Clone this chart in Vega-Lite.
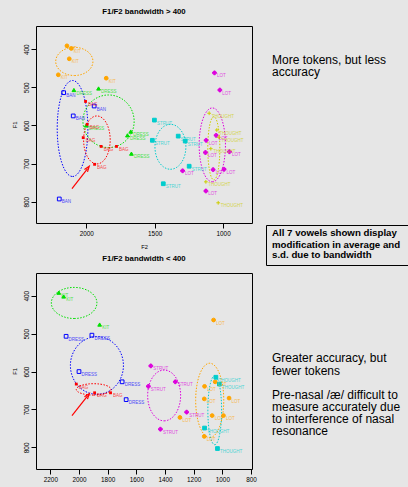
{
  "$schema": "https://vega.github.io/schema/vega-lite/v6.json",
  "background": "#e6e6e6",
  "padding": {"left": 10, "top": 7, "right": 0, "bottom": 0},
  "config": {
    "font": "Liberation Sans",
    "view": {"stroke": "#000", "strokeWidth": 1},
    "axis": {"domain": false, "grid": false, "tickColor": "#000", "tickSize": 5, "tickWidth": 1, "labelFont": "Liberation Sans", "labelFontSize": 6.4, "labelColor": "#000", "labelPadding": 2, "titleFont": "Liberation Sans", "titleFontSize": 5.7, "titleFontWeight": "normal", "titleColor": "#000", "labelFlush": false, "labelOverlap": false, "format": "d"},
    "axisX": {"titlePadding": 7},
    "axisY": {"labelAngle": -90, "titlePadding": 6},
    "title": {"font": "Liberation Sans", "fontSize": 7.8, "fontWeight": "bold", "color": "#000", "offset": 10, "baseline": "alphabetic", "anchor": "middle"}
  },
  "datasets": {
    "pts1": [
      {"v": "KIT", "F2": 2141, "F1": 391}, {"v": "KIT", "F2": 2109, "F1": 398}, {"v": "KIT", "F2": 2124, "F1": 425}, {"v": "KIT", "F2": 2204, "F1": 467}, {"v": "KIT", "F2": 1854, "F1": 476},
      {"v": "BAN", "F2": 2165, "F1": 514}, {"v": "BAN", "F2": 1942, "F1": 549}, {"v": "BAN", "F2": 2095, "F1": 575}, {"v": "BAN", "F2": 2197, "F1": 793},
      {"v": "DRESS", "F2": 2090, "F1": 507}, {"v": "DRESS", "F2": 1910, "F1": 503}, {"v": "DRESS", "F2": 2000, "F1": 600}, {"v": "DRESS", "F2": 1675, "F1": 616}, {"v": "DRESS", "F2": 1699, "F1": 626}, {"v": "DRESS", "F2": 1670, "F1": 674},
      {"v": "BAG", "F2": 2005, "F1": 537}, {"v": "BAG", "F2": 1993, "F1": 597}, {"v": "BAG", "F2": 2022, "F1": 632}, {"v": "BAG", "F2": 1891, "F1": 655}, {"v": "BAG", "F2": 1779, "F1": 655}, {"v": "BAG", "F2": 1939, "F1": 702},
      {"v": "STRUT", "F2": 1502, "F1": 586}, {"v": "STRUT", "F2": 1328, "F1": 628}, {"v": "STRUT", "F2": 1277, "F1": 641}, {"v": "STRUT", "F2": 1517, "F1": 639}, {"v": "STRUT", "F2": 1248, "F1": 707}, {"v": "STRUT", "F2": 1437, "F1": 753},
      {"v": "LOT", "F2": 1063, "F1": 462}, {"v": "LOT", "F2": 1024, "F1": 507}, {"v": "LOT", "F2": 1051, "F1": 626}, {"v": "LOT", "F2": 1124, "F1": 639}, {"v": "LOT", "F2": 1129, "F1": 671}, {"v": "LOT", "F2": 954, "F1": 669}, {"v": "LOT", "F2": 1296, "F1": 719}, {"v": "LOT", "F2": 1073, "F1": 716}, {"v": "LOT", "F2": 993, "F1": 715}, {"v": "LOT", "F2": 1126, "F1": 772},
      {"v": "THOUGHT", "F2": 1102, "F1": 568}, {"v": "THOUGHT", "F2": 1046, "F1": 612}, {"v": "THOUGHT", "F2": 1031, "F1": 631}, {"v": "THOUGHT", "F2": 1090, "F1": 661}, {"v": "THOUGHT", "F2": 1126, "F1": 748}, {"v": "THOUGHT", "F2": 1036, "F1": 803}
    ],
    "ell1": [
      {"v": "KIT", "k": 0, "F2": 2223, "F1": 432}, {"v": "KIT", "k": 1, "F2": 2087, "F1": 469}, {"v": "KIT", "k": 2, "F2": 1951, "F1": 432}, {"v": "KIT", "k": 3, "F2": 2087, "F1": 395},
      {"v": "BAN", "k": 0, "F2": 2212, "F1": 608}, {"v": "BAN", "k": 1, "F2": 2100, "F1": 734}, {"v": "BAN", "k": 2, "F2": 1988, "F1": 608}, {"v": "BAN", "k": 3, "F2": 2100, "F1": 482},
      {"v": "DRESS", "k": 0, "F2": 2024, "F1": 589}, {"v": "DRESS", "k": 1, "F2": 1837, "F1": 658}, {"v": "DRESS", "k": 2, "F2": 1650, "F1": 589}, {"v": "DRESS", "k": 3, "F2": 1837, "F1": 520},
      {"v": "BAG", "k": 0, "F2": 2019, "F1": 638}, {"v": "BAG", "k": 1, "F2": 1922, "F1": 701}, {"v": "BAG", "k": 2, "F2": 1825, "F1": 638}, {"v": "BAG", "k": 3, "F2": 1922, "F1": 575},
      {"v": "STRUT", "k": 0, "F2": 1498, "F1": 656}, {"v": "STRUT", "k": 1, "F2": 1385, "F1": 715}, {"v": "STRUT", "k": 2, "F2": 1272, "F1": 656}, {"v": "STRUT", "k": 3, "F2": 1385, "F1": 597},
      {"v": "LOT", "k": 0, "F2": 1175, "F1": 651}, {"v": "LOT", "k": 1, "F2": 1079, "F1": 748}, {"v": "LOT", "k": 2, "F2": 983, "F1": 651}, {"v": "LOT", "k": 3, "F2": 1079, "F1": 554},
      {"v": "THOUGHT", "k": 0, "F2": 1112, "F1": 660}, {"v": "THOUGHT", "k": 1, "F2": 1068, "F1": 743}, {"v": "THOUGHT", "k": 2, "F2": 1024, "F1": 660}, {"v": "THOUGHT", "k": 3, "F2": 1068, "F1": 577}
    ],
    "arr1": [{"F2": 2104, "F1": 766, "F2b": 1990, "F1b": 713}],
    "pts2": [
      {"v": "KIT", "F2": 2141, "F1": 392}, {"v": "KIT", "F2": 2107, "F1": 402}, {"v": "KIT", "F2": 1856, "F1": 476},
      {"v": "DRESS", "F2": 2090, "F1": 507}, {"v": "DRESS", "F2": 1910, "F1": 504}, {"v": "DRESS", "F2": 2000, "F1": 600}, {"v": "DRESS", "F2": 1699, "F1": 627}, {"v": "DRESS", "F2": 1671, "F1": 674},
      {"v": "BAG", "F2": 2019, "F1": 633}, {"v": "BAG", "F2": 1891, "F1": 656}, {"v": "BAG", "F2": 1780, "F1": 656},
      {"v": "STRUT", "F2": 1499, "F1": 585}, {"v": "STRUT", "F2": 1516, "F1": 639}, {"v": "STRUT", "F2": 1328, "F1": 627}, {"v": "STRUT", "F2": 1249, "F1": 707}, {"v": "STRUT", "F2": 1432, "F1": 752},
      {"v": "LOT", "F2": 1061, "F1": 464}, {"v": "LOT", "F2": 1050, "F1": 627}, {"v": "LOT", "F2": 1124, "F1": 639}, {"v": "LOT", "F2": 1126, "F1": 672}, {"v": "LOT", "F2": 953, "F1": 670}, {"v": "LOT", "F2": 1296, "F1": 721}, {"v": "LOT", "F2": 1071, "F1": 716}, {"v": "LOT", "F2": 992, "F1": 716}, {"v": "LOT", "F2": 1126, "F1": 771},
      {"v": "THOUGHT", "F2": 1045, "F1": 615}, {"v": "THOUGHT", "F2": 1020, "F1": 633}, {"v": "THOUGHT", "F2": 1124, "F1": 749}, {"v": "THOUGHT", "F2": 1034, "F1": 803}
    ],
    "ell2": [
      {"v": "KIT", "k": 0, "F2": 2193, "F1": 419}, {"v": "KIT", "k": 1, "F2": 2034, "F1": 460}, {"v": "KIT", "k": 2, "F2": 1875, "F1": 419}, {"v": "KIT", "k": 3, "F2": 2034, "F1": 378},
      {"v": "DRESS", "k": 0, "F2": 2060, "F1": 584}, {"v": "DRESS", "k": 1, "F2": 1875, "F1": 660}, {"v": "DRESS", "k": 2, "F2": 1690, "F1": 584}, {"v": "DRESS", "k": 3, "F2": 1875, "F1": 508},
      {"v": "BAG", "k": 0, "F2": 2019, "F1": 647}, {"v": "BAG", "k": 1, "F2": 1898, "F1": 662}, {"v": "BAG", "k": 2, "F2": 1777, "F1": 647}, {"v": "BAG", "k": 3, "F2": 1898, "F1": 632},
      {"v": "STRUT", "k": 0, "F2": 1521, "F1": 663}, {"v": "STRUT", "k": 1, "F2": 1406, "F1": 730}, {"v": "STRUT", "k": 2, "F2": 1291, "F1": 663}, {"v": "STRUT", "k": 3, "F2": 1406, "F1": 596},
      {"v": "LOT", "k": 0, "F2": 1186, "F1": 676}, {"v": "LOT", "k": 1, "F2": 1088, "F1": 774}, {"v": "LOT", "k": 2, "F2": 990, "F1": 676}, {"v": "LOT", "k": 3, "F2": 1088, "F1": 578},
      {"v": "THOUGHT", "k": 0, "F2": 1101, "F1": 702}, {"v": "THOUGHT", "k": 1, "F2": 1053, "F1": 793}, {"v": "THOUGHT", "k": 2, "F2": 1005, "F1": 702}, {"v": "THOUGHT", "k": 3, "F2": 1053, "F1": 611}
    ],
    "arr2": [{"F2": 2049, "F1": 716, "F2b": 1940, "F1b": 664}],
    "box": [{"left": 266.5, "right": 412, "top": 224.5, "bottom": 264.5}],
    "notesRegular": [
      {"t": "More tokens, but less", "line": 62.7},
      {"t": "accuracy", "line": 74.6},
      {"t": "Greater accuracy, but", "line": 360.5},
      {"t": "fewer tokens", "line": 373.5},
      {"t": "Pre-nasal /æ/ difficult to", "line": 397.7},
      {"t": "measure accurately due", "line": 410},
      {"t": "to interference of nasal", "line": 422.3},
      {"t": "resonance", "line": 434.3}
    ],
    "notesBold": [
      {"t": "All 7 vowels shown display", "line": 235.3},
      {"t": "modification in average and", "line": 246.6},
      {"t": "s.d. due to bandwidth", "line": 256.6}
    ]
  },
  "hconcat": [
    {
      "spacing": 4,
      "resolve": {"scale": {"x": "independent", "y": "independent", "color": "independent", "fill": "independent", "stroke": "independent", "shape": "independent"}},
      "vconcat": [
        {
          "title": {"text": "F1/F2 bandwidth > 400"},
          "width": 216,
          "height": 197,
          "encoding": {
            "x": {"field": "F2", "type": "quantitative", "scale": {"domain": [789, 2367], "reverse": true, "nice": false, "zero": false}, "axis": {"values": [2000, 1500, 1000], "title": "F2"}},
            "y": {"field": "F1", "type": "quantitative", "scale": {"domain": [339, 856], "reverse": true, "nice": false, "zero": false}, "axis": {"values": [400, 500, 600, 700, 800], "title": "F1"}}
          },
          "layer": [
            {
              "data": {"name": "ell1"},
              "mark": {"type": "line", "interpolate": "cardinal-closed", "tension": -0.657, "strokeDash": [1.5, 1.5], "strokeWidth": 1},
              "encoding": {
                "color": {"field": "v", "type": "nominal", "scale": {"domain": ["KIT", "BAN", "DRESS", "BAG", "STRUT", "LOT", "THOUGHT"], "range": ["#ffa500", "#0000ff", "#00e000", "#ff0000", "#00cdcd", "#dd00dd", "#cdcd00"]}, "legend": null},
                "order": {"field": "k", "type": "quantitative"}
              }
            },
            {
              "data": {"name": "pts1"},
              "transform": [{"filter": "datum.v !== 'BAG'"}],
              "mark": {"type": "point", "size": 14, "strokeWidth": 1, "opacity": 1},
              "encoding": {
                "shape": {"field": "v", "type": "nominal", "scale": {"domain": ["KIT", "BAN", "DRESS", "STRUT", "LOT", "THOUGHT"], "range": ["circle", "square", "triangle-up", "square", "cross", "M-1,0H1M0,-1V1"]}, "legend": null},
                "fill": {"field": "v", "type": "nominal", "scale": {"domain": ["KIT", "BAN", "DRESS", "STRUT", "LOT", "THOUGHT"], "range": ["#ffa500", "transparent", "#00e000", "#00cdcd", "#dd00dd", "transparent"]}, "legend": null},
                "stroke": {"field": "v", "type": "nominal", "scale": {"domain": ["KIT", "BAN", "DRESS", "STRUT", "LOT", "THOUGHT"], "range": ["#ffa500", "#0000ff", "#00e000", "#00cdcd", "#dd00dd", "#cdcd00"]}, "legend": null}
              }
            },
            {
              "data": {"name": "pts1"},
              "transform": [{"filter": "datum.v === 'BAG'"}],
              "mark": {"type": "square", "size": 8, "color": "#ff0000", "opacity": 1}
            },
            {
              "data": {"name": "pts1"},
              "mark": {"type": "text", "align": "left", "baseline": "middle", "dx": 2.5, "dy": 3.5, "fontSize": 4.5, "font": "Liberation Sans", "opacity": 0.7},
              "encoding": {
                "text": {"field": "v"},
                "color": {"field": "v", "type": "nominal", "legend": null}
              }
            },
            {
              "data": {"name": "arr1"},
              "mark": {"type": "rule", "color": "#ff0000", "strokeWidth": 1.2},
              "encoding": {"x2": {"field": "F2b"}, "y2": {"field": "F1b"}}
            },
            {
              "data": {"name": "arr1"},
              "mark": {"type": "point", "shape": "M-0.7,1L0,-1L0.7,1", "angle": 37, "color": "#ff0000", "size": 30, "strokeWidth": 1.2, "filled": false, "opacity": 1},
              "encoding": {"x": {"field": "F2b", "type": "quantitative"}, "y": {"field": "F1b", "type": "quantitative"}}
            }
          ]
        },
        {
          "title": {"text": "F1/F2 bandwidth < 400"},
          "width": 216,
          "height": 196,
          "encoding": {
            "x": {"field": "F2", "type": "quantitative", "scale": {"domain": [793, 2300], "reverse": true, "nice": false, "zero": false}, "axis": {"values": [2200, 2000, 1800, 1600, 1400, 1200, 1000, 800], "title": "F2"}},
            "y": {"field": "F1", "type": "quantitative", "scale": {"domain": [340, 857], "reverse": true, "nice": false, "zero": false}, "axis": {"values": [400, 500, 600, 700, 800], "title": "F1"}}
          },
          "layer": [
            {
              "data": {"name": "ell2"},
              "mark": {"type": "line", "interpolate": "cardinal-closed", "tension": -0.657, "strokeDash": [1.5, 1.5], "strokeWidth": 1},
              "encoding": {
                "color": {"field": "v", "type": "nominal", "scale": {"domain": ["KIT", "DRESS", "BAG", "STRUT", "LOT", "THOUGHT"], "range": ["#00e000", "#0000ff", "#ff0000", "#dd00dd", "#ffa500", "#00cdcd"]}, "legend": null},
                "order": {"field": "k", "type": "quantitative"}
              }
            },
            {
              "data": {"name": "pts2"},
              "transform": [{"filter": "datum.v !== 'BAG'"}],
              "mark": {"type": "point", "size": 14, "strokeWidth": 1, "opacity": 1},
              "encoding": {
                "shape": {"field": "v", "type": "nominal", "scale": {"domain": ["KIT", "DRESS", "STRUT", "LOT", "THOUGHT"], "range": ["triangle-up", "square", "cross", "circle", "square"]}, "legend": null},
                "fill": {"field": "v", "type": "nominal", "scale": {"domain": ["KIT", "DRESS", "STRUT", "LOT", "THOUGHT"], "range": ["#00e000", "transparent", "#dd00dd", "#ffa500", "#00cdcd"]}, "legend": null},
                "stroke": {"field": "v", "type": "nominal", "scale": {"domain": ["KIT", "DRESS", "STRUT", "LOT", "THOUGHT"], "range": ["#00e000", "#0000ff", "#dd00dd", "#ffa500", "#00cdcd"]}, "legend": null}
              }
            },
            {
              "data": {"name": "pts2"},
              "transform": [{"filter": "datum.v === 'BAG'"}],
              "mark": {"type": "square", "size": 8, "color": "#ff0000", "opacity": 1}
            },
            {
              "data": {"name": "pts2"},
              "mark": {"type": "text", "align": "left", "baseline": "middle", "dx": 2.5, "dy": 3.5, "fontSize": 4.5, "font": "Liberation Sans", "opacity": 0.7},
              "encoding": {
                "text": {"field": "v"},
                "color": {"field": "v", "type": "nominal", "legend": null}
              }
            },
            {
              "data": {"name": "arr2"},
              "mark": {"type": "rule", "color": "#ff0000", "strokeWidth": 1.2},
              "encoding": {"x2": {"field": "F2b"}, "y2": {"field": "F1b"}}
            },
            {
              "data": {"name": "arr2"},
              "mark": {"type": "point", "shape": "M-0.7,1L0,-1L0.7,1", "angle": 37, "color": "#ff0000", "size": 30, "strokeWidth": 1.2, "filled": false, "opacity": 1},
              "encoding": {"x": {"field": "F2b", "type": "quantitative"}, "y": {"field": "F1b", "type": "quantitative"}}
            }
          ]
        }
      ]
    },
    {
      "width": 148,
      "height": 462,
      "view": {"stroke": null},
      "layer": [
        {
          "data": {"name": "box"},
          "mark": {"type": "rect", "fill": "transparent", "stroke": "#000", "strokeWidth": 1, "opacity": 1, "clip": false},
          "encoding": {
            "x": {"field": "left", "type": "quantitative", "scale": {"domain": [260, 408], "nice": false, "zero": false}, "axis": null},
            "x2": {"field": "right"},
            "y": {"field": "top", "type": "quantitative", "scale": {"domain": [25, 487], "reverse": true, "nice": false, "zero": false}, "axis": null},
            "y2": {"field": "bottom"}
          }
        },
        {
          "data": {"name": "notesRegular"},
          "mark": {"type": "text", "align": "left", "baseline": "alphabetic", "fontSize": 12, "font": "Liberation Sans", "color": "#000"},
          "encoding": {
            "text": {"field": "t"},
            "x": {"datum": 272, "type": "quantitative"},
            "y": {"field": "line", "type": "quantitative"}
          }
        },
        {
          "data": {"name": "notesBold"},
          "mark": {"type": "text", "align": "left", "baseline": "alphabetic", "fontSize": 9.7, "fontWeight": "bold", "font": "Liberation Sans", "color": "#000"},
          "encoding": {
            "text": {"field": "t"},
            "x": {"datum": 272, "type": "quantitative"},
            "y": {"field": "line", "type": "quantitative"}
          }
        }
      ]
    }
  ],
  "spacing": 3
}
